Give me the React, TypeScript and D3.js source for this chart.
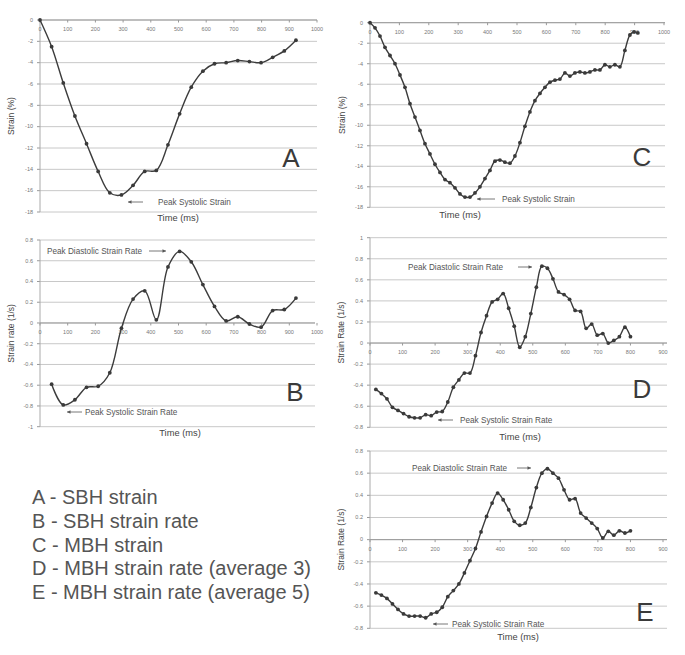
import React from "react";
import * as d3 from "d3";

// ---------- DATA ----------
const aTime = [0, 42, 84, 126, 168, 210, 252, 294, 336, 378, 420, 462, 504, 546, 588, 630, 672, 714, 756, 798, 840, 882, 924];
const aStrain = [0, -2.5, -5.9, -9.0, -11.6, -14.2, -16.2, -16.4, -15.5, -14.2, -14.1, -11.7, -8.8, -6.3, -4.8, -4.1, -4.0, -3.8, -3.9, -4.0, -3.5, -2.9, -1.9];

const bTime = [42, 84, 126, 168, 210, 252, 294, 336, 378, 420, 462, 504, 546, 588, 630, 672, 714, 756, 798, 840, 882, 924];
const bRate = [-0.59, -0.79, -0.74, -0.62, -0.61, -0.48, -0.05, 0.23, 0.31, 0.03, 0.54, 0.69, 0.59, 0.37, 0.16, 0.02, 0.06, -0.01, -0.04, 0.12, 0.13, 0.24];

const cTime = [0, 17, 34, 51, 68, 85, 102, 119, 136, 153, 170, 187, 204, 221, 238, 255, 272, 289, 306, 323, 340, 357, 374, 391, 408, 425, 442, 459, 476, 493, 510, 527, 544, 561, 578, 595, 612, 629, 646, 663, 680, 697, 714, 731, 748, 765, 782, 799, 816, 833, 850, 867, 884, 898, 911];
const cStrain = [0, -0.5, -1.3, -2.4, -3.2, -4.0, -5.1, -6.3, -7.9, -9.2, -10.5, -11.8, -12.8, -13.8, -14.6, -15.3, -15.6, -16.1, -16.7, -17.0, -17.0, -16.6, -16.0, -15.2, -14.4, -13.5, -13.4, -13.6, -13.7, -13.0, -11.7, -10.1, -8.7, -7.6, -6.9, -6.3, -5.8, -5.6, -5.5, -4.9, -5.2, -4.9, -4.8, -4.9, -4.8, -4.6, -4.6, -4.1, -4.3, -4.1, -4.3, -2.7, -1.2, -0.9, -1.0];

const dTime = [18, 35, 52, 69, 86, 103, 120, 137, 154, 171, 188, 205, 222, 239, 256, 273, 290, 307, 324, 341, 358, 375, 392, 409, 426, 443, 460, 477, 494, 511, 528, 545, 562, 579, 596, 613, 630, 647, 664, 681, 698, 715, 732, 749, 766, 783, 800];
const dRate = [-0.44, -0.48, -0.53, -0.61, -0.64, -0.67, -0.70, -0.71, -0.71, -0.68, -0.69, -0.655, -0.65, -0.56, -0.42, -0.35, -0.285, -0.285, -0.12, 0.10, 0.26, 0.39, 0.415, 0.47, 0.33, 0.16, -0.04, 0.06, 0.28, 0.53, 0.73, 0.71, 0.61, 0.485, 0.46, 0.415, 0.31, 0.30, 0.14, 0.18, 0.075, 0.09, 0.0, 0.025, 0.06, 0.15, 0.06];

const eTime = [18, 35, 52, 69, 86, 103, 120, 137, 154, 171, 188, 205, 222, 239, 256, 273, 290, 307, 324, 341, 358, 375, 392, 409, 426, 443, 460, 477, 494, 511, 528, 545, 562, 579, 596, 613, 630, 647, 664, 681, 698, 715, 732, 749, 766, 783, 800];
const eRate = [-0.48, -0.50, -0.53, -0.58, -0.63, -0.67, -0.69, -0.69, -0.69, -0.705, -0.67, -0.655, -0.61, -0.515, -0.46, -0.40, -0.30, -0.19, -0.08, 0.07, 0.21, 0.33, 0.42, 0.36, 0.27, 0.165, 0.13, 0.15, 0.29, 0.47, 0.60, 0.64, 0.60, 0.555, 0.45, 0.36, 0.37, 0.24, 0.195, 0.15, 0.10, 0.015, 0.075, 0.04, 0.08, 0.06, 0.08];

const strainTicks = [0, -2, -4, -6, -8, -10, -12, -14, -16, -18];
const bYTicks = [0.8, 0.6, 0.4, 0.2, 0, -0.2, -0.4, -0.6, -0.8, -1];
const dYTicks = [1, 0.8, 0.6, 0.4, 0.2, 0, -0.2, -0.4, -0.6, -0.8];
const eYTicks = [0.8, 0.6, 0.4, 0.2, 0, -0.2, -0.4, -0.6, -0.8];
const xTicks1000 = [0, 100, 200, 300, 400, 500, 600, 700, 800, 900, 1000];
const xTicks900 = [0, 100, 200, 300, 400, 500, 600, 700, 800, 900];

const legendLines = [
  "A - SBH strain",
  "B - SBH strain rate",
  "C - MBH strain",
  "D - MBH strain rate (average 3)",
  "E - MBH strain rate (average 5)",
];

const FONT = "'Liberation Sans', Arial, sans-serif";

type Ann = { text: string; x: number; y: number; arrowFrom: number; arrowTo: number };

type PanelProps = {
  times: number[];
  values: number[];
  xDomain: [number, number];
  xRange: [number, number];
  yDomain: [number, number];
  yRange: [number, number];
  yTicks: number[];
  xTicks: number[];
  gridRight: number;
  yTitle: string;
  yTitleX: number;
  xTitleX: number;
  xTitleY: number;
  letter: string;
  letterX: number;
  letterY: number;
  anns: Ann[];
};

function Panel(p: PanelProps) {
  const x = d3.scaleLinear().domain(p.xDomain).range(p.xRange);
  const y = d3.scaleLinear().domain(p.yDomain).range(p.yRange);
  const pts: [number, number][] = p.times.map((t, i) => [x(t), y(p.values[i])]);
  const line = d3.line().curve(d3.curveCatmullRom.alpha(0.5))(pts) || "";
  const x0 = p.xRange[0];
  const yZero = y(0);
  const yTop = Math.min(...p.yRange);
  const yBot = Math.max(...p.yRange);
  return (
    <g>
      {p.yTicks.map((v) => (
        <g key={"g" + v}>
          <line x1={x0} x2={p.gridRight} y1={y(v)} y2={y(v)} stroke="#c8c8c8" strokeWidth={1} />
          <line x1={x0 - 3} x2={x0} y1={y(v)} y2={y(v)} stroke="#999" strokeWidth={1} />
          <text x={x0 - 7} y={y(v)} dy="0.33em" textAnchor="end" fontSize={5.5} fill="#777" fontFamily={FONT}>
            {String(v)}
          </text>
        </g>
      ))}
      <line x1={x0} x2={x0} y1={yTop} y2={yBot} stroke="#aaa" strokeWidth={1} />
      <line x1={x0} x2={p.gridRight} y1={yZero} y2={yZero} stroke="#999" strokeWidth={1} />
      {p.xTicks.map((t) => (
        <g key={"x" + t}>
          <line x1={x(t)} x2={x(t)} y1={yZero} y2={yZero + 2.5} stroke="#999" strokeWidth={1} />
          <text x={x(t)} y={yZero + 11} textAnchor="middle" fontSize={5.5} fill="#777" fontFamily={FONT}>
            {String(t)}
          </text>
        </g>
      ))}
      <path d={line} fill="none" stroke="#3c3c3c" strokeWidth={1.4} />
      {pts.map((pt, i) => (
        <circle key={"c" + i} cx={pt[0]} cy={pt[1]} r={1.9} fill="#3a3a3a" />
      ))}
      <text
        transform={`translate(${p.yTitleX},${(yTop + yBot) / 2}) rotate(-90)`}
        textAnchor="middle"
        dy="0.35em"
        fontSize={8.5}
        fill="#444"
        fontFamily={FONT}
      >
        {p.yTitle}
      </text>
      <text x={p.xTitleX} y={p.xTitleY} dy="0.35em" textAnchor="middle" fontSize={9.3} fill="#444" fontFamily={FONT}>
        Time (ms)
      </text>
      <text x={p.letterX} y={p.letterY} dy="0.36em" textAnchor="middle" fontSize={26} fill="#3a3a3a" fontFamily={FONT}>
        {p.letter}
      </text>
      {p.anns.map((a, i) => {
        const dir = a.arrowTo > a.arrowFrom ? 1 : -1;
        return (
          <g key={"a" + i}>
            <text x={a.x} y={a.y} dy="0.35em" fontSize={8.2} fill="#555" fontFamily={FONT}>
              {a.text}
            </text>
            <line x1={a.arrowFrom} x2={a.arrowTo} y1={a.y} y2={a.y} stroke="#555" strokeWidth={0.8} />
            <path
              d={`M${a.arrowTo},${a.y} L${a.arrowTo - dir * 3.5},${a.y - 1.8} L${a.arrowTo - dir * 3.5},${a.y + 1.8} Z`}
              fill="#555"
            />
          </g>
        );
      })}
    </g>
  );
}

export default function App() {
  return (
    <svg
      width={685}
      height={655}
      style={{ position: "absolute", left: 0, top: 0, background: "#fff" }}
    >
      <rect x={0} y={0} width={685} height={655} fill="#fff" />
      <Panel
        times={aTime}
        values={aStrain}
        xDomain={[0, 1000]}
        xRange={[40, 317]}
        yDomain={[-18, 0]}
        yRange={[212, 20]}
        yTicks={strainTicks}
        xTicks={xTicks1000}
        gridRight={317}
        yTitle="Strain (%)"
        yTitleX={11}
        xTitleX={178}
        xTitleY={218}
        letter="A"
        letterX={291}
        letterY={158}
        anns={[{ text: "Peak Systolic Strain", x: 158, y: 202, arrowFrom: 143, arrowTo: 128 }]}
      />
      <Panel
        times={bTime}
        values={bRate}
        xDomain={[0, 1000]}
        xRange={[40, 317]}
        yDomain={[-1, 0.8]}
        yRange={[426.7, 240]}
        yTicks={bYTicks}
        xTicks={xTicks1000}
        gridRight={315}
        yTitle="Strain rate (1/s)"
        yTitleX={11}
        xTitleX={180}
        xTitleY={433}
        letter="B"
        letterX={295}
        letterY={392}
        anns={[
          { text: "Peak Diastolic Strain Rate", x: 47, y: 251, arrowFrom: 149, arrowTo: 166 },
          { text: "Peak Systolic Strain Rate", x: 85, y: 412, arrowFrom: 82, arrowTo: 67 },
        ]}
      />
      <Panel
        times={cTime}
        values={cStrain}
        xDomain={[0, 1000]}
        xRange={[370, 664]}
        yDomain={[-18, 0]}
        yRange={[207.3, 22.7]}
        yTicks={strainTicks}
        xTicks={xTicks1000}
        gridRight={665}
        yTitle="Strain (%)"
        yTitleX={342}
        xTitleX={460}
        xTitleY={215}
        letter="C"
        letterX={642}
        letterY={157}
        anns={[{ text: "Peak Systolic Strain", x: 502, y: 199, arrowFrom: 495, arrowTo: 477 }]}
      />
      <Panel
        times={dTime}
        values={dRate}
        xDomain={[0, 900]}
        xRange={[370, 663]}
        yDomain={[-0.8, 1]}
        yRange={[427.3, 237.7]}
        yTicks={dYTicks}
        xTicks={xTicks900}
        gridRight={667}
        yTitle="Strain Rate (1/s)"
        yTitleX={341}
        xTitleX={520}
        xTitleY={437}
        letter="D"
        letterX={642}
        letterY={389}
        anns={[
          { text: "Peak Diastolic Strain Rate", x: 408, y: 267, arrowFrom: 518, arrowTo: 532 },
          { text: "Peak Systolic Strain Rate", x: 460, y: 420, arrowFrom: 453, arrowTo: 438 },
        ]}
      />
      <Panel
        times={eTime}
        values={eRate}
        xDomain={[0, 900]}
        xRange={[370, 663]}
        yDomain={[-0.8, 0.8]}
        yRange={[628.3, 451]}
        yTicks={eYTicks}
        xTicks={xTicks900}
        gridRight={667}
        yTitle="Strain Rate (1/s)"
        yTitleX={341}
        xTitleX={518}
        xTitleY={637}
        letter="E"
        letterX={645}
        letterY={612}
        anns={[
          { text: "Peak Diastolic Strain Rate", x: 412, y: 468, arrowFrom: 517, arrowTo: 531 },
          { text: "Peak Systolic Strain Rate", x: 452, y: 624, arrowFrom: 448, arrowTo: 433 },
        ]}
      />
      {legendLines.map((s, i) => (
        <text key={s} x={32} y={497 + i * 23.8} dy="0.35em" fontSize={20} fill="#555" fontFamily={FONT}>
          {s}
        </text>
      ))}
    </svg>
  );
}
